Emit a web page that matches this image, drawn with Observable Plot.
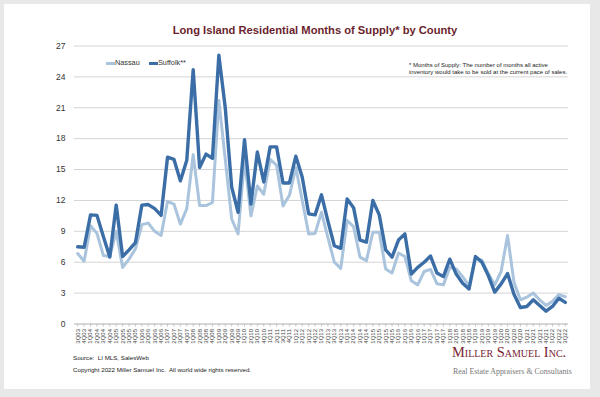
<!DOCTYPE html>
<html><head><meta charset="utf-8">
<script src="https://cdn.jsdelivr.net/npm/d3@7"></script>
<script src="https://cdn.jsdelivr.net/npm/@observablehq/plot@0.6"></script>
<style>
body{margin:0;background:#e8e8e8;font-family:"Liberation Sans",Arial,sans-serif;}
#page{position:relative;width:600px;height:397px;overflow:hidden;background:#e8e8e8;}
#card{position:absolute;left:4px;top:4px;width:586px;height:385px;background:#fff;}
#chart{position:absolute;left:0;top:0;}
.t{position:absolute;white-space:nowrap;}
#title{left:0;width:630px;text-align:center;top:24px;font-weight:bold;font-size:11.2px;color:#6b1f2e;}
.leg{top:58px;font-size:7.3px;color:#333;}
.sw{position:absolute;top:62px;height:3px;width:9px;}
.note{left:409px;font-size:6px;color:#222;}
.foot{left:73px;font-size:6.2px;color:#222;}
#logo1{left:452px;top:344px;font-family:"Liberation Serif","DejaVu Serif",serif;font-variant:small-caps;font-size:14.4px;color:#7a2232;}
#logo2{left:453px;top:367px;font-family:"Liberation Serif","DejaVu Serif",serif;font-size:7.9px;color:#777;}
</style></head>
<body>
<div id="page">
<div id="card"></div>
<div id="chart"></div>
<div id="title" class="t">Long Island Residential Months of Supply* by County</div>
<div class="sw" style="left:106px;background:#a9c4dc"></div>
<div class="t leg" style="left:115px">Nassau</div>
<div class="sw" style="left:149px;background:#3b6ea6"></div>
<div class="t leg" style="left:158px">Suffolk**</div>
<div class="t note" style="top:62px">* Months of Supply: The number of months all active</div>
<div class="t note" style="top:69px">inventory would take to be sold at the current pace of sales.</div>
<div class="t foot" style="top:354px">Source:&nbsp; LI MLS, SalesWeb</div>
<div class="t foot" style="top:366px">Copyright 2022 Miller Samuel Inc.&nbsp; All world wide rights reserved.</div>
<div id="logo1" class="t">Miller Samuel Inc.</div>
<div id="logo2" class="t">Real Estate Appraisers &amp; Consultants</div>
</div>
<script>
const quarters = ["3Q03","4Q03",
"1Q04","2Q04","3Q04","4Q04","1Q05","2Q05","3Q05","4Q05","1Q06","2Q06","3Q06","4Q06",
"1Q07","2Q07","3Q07","4Q07","1Q08","2Q08","3Q08","4Q08","1Q09","2Q09","3Q09","4Q09",
"1Q10","2Q10","3Q10","4Q10","1Q11","2Q11","3Q11","4Q11","1Q12","2Q12","3Q12","4Q12",
"1Q13","2Q13","3Q13","4Q13","1Q14","2Q14","3Q14","4Q14","1Q15","2Q15","3Q15","4Q15",
"1Q16","2Q16","3Q16","4Q16","1Q17","2Q17","3Q17","4Q17","1Q18","2Q18","3Q18","4Q18",
"1Q19","2Q19","3Q19","4Q19","1Q20","2Q20","3Q20","4Q20","1Q21","2Q21","3Q21","4Q21",
"1Q22","2Q22","3Q22"];
const nassau = [6.85,6.1,9.55,8.8,6.65,6.55,9.0,5.5,6.3,7.3,
9.65,9.8,9.0,8.6,11.9,11.65,9.7,11.2,16.45,11.5,
11.5,11.8,21.7,16.0,10.2,8.75,16.0,10.5,13.4,12.6,
16.0,15.4,11.45,12.5,15.2,12.0,8.75,8.8,10.85,8.4,
6.0,5.4,10.05,9.45,6.5,6.15,8.9,8.9,5.35,4.95,
6.9,6.55,4.2,3.8,5.1,5.3,3.9,3.8,5.5,5.35,
4.6,3.7,6.4,6.2,4.9,3.8,5.1,8.6,4.05,2.35,
2.6,3.0,2.35,1.8,2.2,2.85,2.65];
const suffolk = [7.5,7.45,10.6,10.55,8.5,6.5,11.55,6.55,7.2,7.9,
11.55,11.6,11.2,10.55,16.2,16.0,13.9,15.9,24.7,15.2,
16.5,16.1,26.1,21.0,13.3,10.85,17.9,11.65,16.7,13.8,
17.2,17.2,13.7,13.7,16.3,14.25,10.7,10.6,12.55,10.0,
7.6,7.35,12.15,11.3,8.15,7.95,12.0,10.6,7.2,6.5,
8.15,8.75,4.85,5.5,6.0,6.6,4.95,4.6,6.3,4.85,
3.95,3.4,6.55,6.0,4.7,3.1,3.9,4.9,2.9,1.6,
1.7,2.35,1.8,1.25,1.7,2.5,2.1];
const yTicks = [0,3,6,9,12,15,18,21,24,27];
const series = ["Nassau","Suffolk**"];
const colors = ["#a9c4dc","#3b6ea6"];

const rows = quarters.map((q,i)=>({q, v:nassau[i], s:series[0]}));
const rows2 = quarters.map((q,i)=>({q, v:suffolk[i], s:series[1]}));

const chart = Plot.plot({
  width:600, height:397,
  marginTop:45.5, marginBottom:73.5, marginLeft:74, marginRight:32,
  style:{background:"transparent", fontFamily:"Liberation Sans, Arial, sans-serif", color:"#333"},
  x:{type:"point", domain:quarters, padding:0.5, label:null},
  y:{domain:[0,27], label:null},
  marks:[
    Plot.gridY(yTicks,{stroke:"#d4d4d4", strokeOpacity:1, strokeWidth:1}),
    Plot.ruleY([0],{stroke:"#c4c4c4"}),
    Plot.axisY(yTicks,{tickSize:0, tickPadding:9, fontSize:8.5, fill:"#333", label:null}),
    Plot.axisX({tickRotate:-90, fontSize:6, tickSize:3, tickPadding:2, stroke:"#c4c4c4", fill:"#444", label:null}),
    Plot.line(rows,{x:"q", y:"v", stroke:colors[0], strokeWidth:3, strokeLinejoin:"round"}),
    Plot.line(rows2,{x:"q", y:"v", stroke:colors[1], strokeWidth:3.4, strokeLinejoin:"round"})
  ]
});
document.getElementById("chart").appendChild(chart);
</script>
</body></html>
